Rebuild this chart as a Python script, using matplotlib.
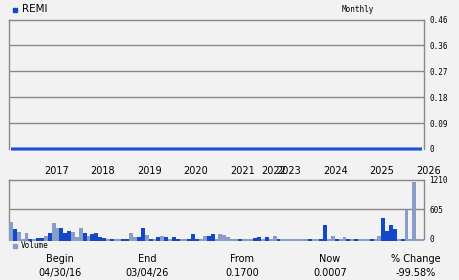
import matplotlib
matplotlib.use("Agg")
import matplotlib.pyplot as plt

# ---------------- data ----------------
ticker = "REMI"
period = "Monthly"
price = [0.0017] * 107  # read as a flat line at ~0 across the whole range
volume = [345, 205, 145, 10, 125, 5, 0, 15, 15, 60,
          125, 325, 225, 225, 125, 165, 145, 40, 225, 125,
          60, 100, 125, 40, 30, 0, 10, 0, 0, 10,
          0, 125, 40, 40, 225, 80, 10, 10, 40, 60,
          40, 10, 40, 10, 0, 0, 10, 100, 10, 0,
          60, 60, 100, 0, 100, 80, 40, 0, 10, 0,
          5, 5, 5, 20, 40, 0, 40, 10, 60, 0,
          0, 0, 0, 0, 0, 0, 0, 0, 0, 0,
          10, 285, 0, 60, 0, 5, 40, 0, 5, 10,
          0, 0, 5, 10, 5, 60, 425, 165, 285, 205,
          0, 0, 590, 0, 1160, 0, 0]
vol_dark = [0, 1, 0, 0, 0, 1, 0, 1, 1, 0,
            1, 0, 0, 1, 1, 1, 0, 0, 0, 1,
            0, 1, 1, 1, 1, 0, 1, 0, 0, 1,
            1, 0, 0, 1, 1, 0, 1, 0, 1, 0,
            1, 0, 1, 1, 0, 0, 1, 1, 1, 0,
            0, 1, 1, 0, 0, 0, 0, 0, 0, 1,
            0, 0, 0, 1, 1, 0, 1, 0, 0, 1,
            0, 0, 0, 0, 0, 0, 0, 1, 0, 0,
            1, 1, 0, 0, 1, 0, 0, 1, 0, 1,
            0, 0, 0, 1, 0, 0, 1, 1, 1, 1,
            0, 1, 0, 0, 0, 0, 0]
year_labels = ["2017", "2018", "2019", "2020", "2021", "2022", "2023", "2024", "2025", "2026"]
year_pos = [9, 21, 33, 45, 57, 65, 69, 81, 93, 105]
price_ticks = [0, 0.092, 0.184, 0.276, 0.368, 0.46]
price_tick_labels = ["0", "0.09", "0.18", "0.27", "0.36", "0.46"]
vol_ticks = [0, 605, 1210]
vol_tick_labels = ["0", "605", "1210"]
summary_heads = ["Begin", "End", "From", "Now", "% Change"]
summary_vals = ["04/30/16", "03/04/26", "0.1700", "0.0007", "-99.58%"]

# ---------------- style ----------------
BG = "#f2f2f2"
GRID = "#888888"
DARK = "#1448c8"
LIGHT = "#8a9cc8"
LINE = "#1a4fd6"
MONO = "DejaVu Sans Mono"
FLOOR = 45  # bars start slightly below the baseline (volume units)

W, H = 460, 280
fig = plt.figure(figsize=(W / 100, H / 100), dpi=100, facecolor=BG)

def px_axes(x0, y0, x1, y1):
    return fig.add_axes([x0 / W, 1 - y1 / H, (x1 - x0) / W, (y1 - y0) / H])

n = len(volume)
xs = list(range(n))

# ---- price panel ----
axp = px_axes(9, 19.5, 424, 149)
axp.set_facecolor(BG)
axp.plot([x + 0.5 for x in xs], price, color="#6f8fe8", lw=2.6, solid_capstyle="butt", clip_on=False, zorder=3)
axp.plot([x + 0.5 for x in xs], price, color=LINE, lw=1.6, solid_capstyle="butt", clip_on=False, zorder=4)
axp.set_xlim(0, n)
axp.set_ylim(0, 0.46)
for s in ["top", "left", "right"]:
    axp.spines[s].set_color(GRID)
    axp.spines[s].set_linewidth(1)
axp.spines["bottom"].set_visible(False)
axp.yaxis.tick_right()
axp.set_yticks(price_ticks)
axp.set_yticklabels(price_tick_labels, fontsize=5.5, family=MONO)
axp.tick_params(axis="y", length=0, pad=4)
for t in price_ticks[1:-1]:
    axp.axhline(t, color=GRID, lw=1, zorder=1)
axp.set_xticks(year_pos)
axp.set_xticklabels(year_labels, fontsize=7, ha="left")
axp.tick_params(axis="x", length=0, pad=12)

# ---- volume panel ----
axv = px_axes(9, 179.5, 424, 239)
axv.set_facecolor(BG)
colors = [DARK if d else LIGHT for d in vol_dark]
axv.bar(xs, [v + FLOOR for v in volume], width=1.0, align="edge", bottom=-FLOOR,
        color=colors, linewidth=0, clip_on=False, zorder=3)
axv.set_xlim(0, n)
axv.set_ylim(0, 1210)
for s in ["top", "left", "right"]:
    axv.spines[s].set_color(GRID)
    axv.spines[s].set_linewidth(1)
axv.spines["bottom"].set_visible(False)
axv.axhline(605, color=GRID, lw=1, zorder=1)
axv.yaxis.tick_right()
axv.set_yticks(vol_ticks)
axv.set_yticklabels(vol_tick_labels, fontsize=5.5, family=MONO)
axv.tick_params(axis="y", length=0, pad=4)
axv.set_xticks([])

# ---- header / legends ----
fig.patches.append(plt.Rectangle((13 / W, 1 - 12 / H), 4 / W, 4 / H, transform=fig.transFigure,
                                 color=DARK, figure=fig))
fig.text(22 / W, 1 - 9.5 / H, ticker, fontsize=7.5, va="center", ha="left")
fig.text(374 / W, 1 - 9.5 / H, period, fontsize=5.5, family=MONO, va="center", ha="right")

fig.patches.append(plt.Rectangle((13 / W, 1 - 247.5 / H), 3.5 / W, 3.5 / H, transform=fig.transFigure,
                                 color=LIGHT, figure=fig))
fig.text(20.5 / W, 1 - 245.5 / H, "Volume", fontsize=5.5, family=MONO, va="center", ha="left")

xc = [60, 147, 242, 330, 416]
for x, h, v in zip(xc, summary_heads, summary_vals):
    fig.text(x / W, 1 - 259 / H, h, fontsize=7, ha="center", va="center")
    fig.text(x / W, 1 - 273 / H, v, fontsize=7, ha="center", va="center")

fig.savefig("out.png", dpi=100, facecolor=BG)
